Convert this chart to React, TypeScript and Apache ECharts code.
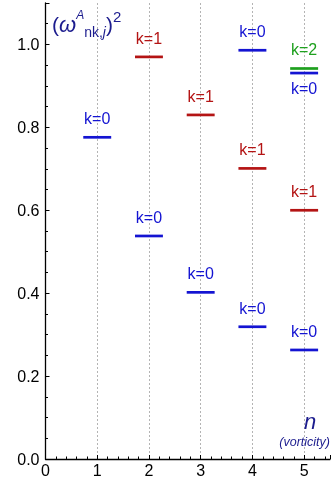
import React, { useEffect, useRef } from 'react';
import * as echarts from 'echarts';

// n (vorticity) of each level
const vorticityN = [1, 2, 2, 3, 3, 4, 4, 4, 5, 5, 5, 5];
// k index of each level
const kIndex = [0, 1, 0, 1, 0, 0, 1, 0, 2, 0, 1, 0];
// (omega^A_{nk,j})^2 of each level
const omegaSquared = [0.776, 0.970, 0.538, 0.830, 0.402, 0.986, 0.701, 0.319, 0.942, 0.931, 0.600, 0.263];

const K_COLORS = ['#1414d2', '#b41414', '#1ea01e'];
const NAVY = '#1c1c8e';
const FONT = '"Liberation Sans", Arial, sans-serif';
const HALF_WIDTH = 0.27;

function txt(text: string, x: number, baseline: number, fs: number, italic: boolean, align: string = 'left') {
  return {
    type: 'text',
    x,
    y: baseline - 0.35 * fs,
    z: 100,
    style: {
      text,
      font: `${italic ? 'italic ' : ''}${fs}px ${FONT}`,
      fill: NAVY,
      align,
      verticalAlign: 'middle',
    },
  };
}

export default function App() {
  const ref = useRef<HTMLDivElement>(null);
  useEffect(() => {
    document.body.style.margin = '0';
    const chart = echarts.init(ref.current!, null, { renderer: 'svg' });
    const data = vorticityN.map((n, i) => {
      const v = omegaSquared[i];
      const below = vorticityN.some((m, j) => j !== i && m === n && omegaSquared[j] > v && omegaSquared[j] - v < 0.05);
      return [n, v, kIndex[i], below ? 1 : 0];
    });
    const titleRich = {
      p: { fontSize: 21, lineHeight: 30, verticalAlign: 'middle', fontFamily: FONT, color: NAVY },
      w: { fontSize: 22, lineHeight: 30, verticalAlign: 'middle', fontStyle: 'italic', fontFamily: FONT, color: NAVY },
      a: { fontSize: 12, lineHeight: 20, verticalAlign: 'top', fontStyle: 'italic', fontFamily: FONT, color: NAVY },
      s: { fontSize: 14, lineHeight: 14, verticalAlign: 'bottom', fontFamily: FONT, color: NAVY },
      j: { fontSize: 14, lineHeight: 14, verticalAlign: 'bottom', fontStyle: 'italic', fontFamily: FONT, color: NAVY },
      t: { fontSize: 15, lineHeight: 19, verticalAlign: 'top', fontFamily: FONT, color: NAVY },
    };
    chart.setOption({
      animation: false,
      grid: { left: 45.5, right: 4, top: 3, bottom: 24, containLabel: false },
      xAxis: {
        type: 'value',
        min: 0,
        max: 5.5,
        interval: 1,
        axisLine: { show: true, onZero: false, lineStyle: { color: '#000', width: 1.3 } },
        axisTick: { show: true, inside: true, length: 4, lineStyle: { color: '#000', width: 1 } },
        minorTick: { show: true, splitNumber: 5, length: 2.5, lineStyle: { color: '#000', width: 1 } },
        axisLabel: { showMaxLabel: false, fontSize: 16, color: '#000', fontFamily: FONT, margin: 3 },
        splitLine: { show: true, showMinLine: false, showMaxLine: false, lineStyle: { color: '#b4b4b4', type: [2, 2], width: 1 } },
      },
      yAxis: {
        type: 'value',
        min: 0,
        max: 1.1,
        interval: 0.2,
        axisLine: { show: true, onZero: false, lineStyle: { color: '#000', width: 1.3 } },
        axisTick: { show: true, inside: true, length: 4, lineStyle: { color: '#000', width: 1 } },
        minorTick: { show: true, splitNumber: 4, length: 2.5, lineStyle: { color: '#000', width: 1 } },
        axisLabel: { showMaxLabel: false, fontSize: 16, color: '#000', fontFamily: FONT, margin: 6, formatter: (v: number) => v.toFixed(1) },
        splitLine: { show: false },
      },
      series: [
        {
          type: 'custom',
          data,
          renderItem: (params: any, api: any) => {
            const n = api.value(0);
            const v = api.value(1);
            const k = api.value(2);
            const below = api.value(3) === 1;
            const p1 = api.coord([n - HALF_WIDTH, v]);
            const p2 = api.coord([n + HALF_WIDTH, v]);
            const c = K_COLORS[k];
            return {
              type: 'group',
              children: [
                { type: 'line', shape: { x1: p1[0], y1: p1[1], x2: p2[0], y2: p2[1] }, style: { stroke: c, lineWidth: 2.7 } },
                {
                  type: 'text',
                  x: (p1[0] + p2[0]) / 2,
                  y: below ? p1[1] + 15 : p1[1] - 18.6,
                  style: { text: 'k=' + k, fill: c, font: `16px ${FONT}`, align: 'center', verticalAlign: 'middle' },
                },
              ],
            };
          },
        },
      ],
      graphic: [
        {
          type: 'text',
          x: 52,
          y: 9,
          z: 100,
          style: {
            text: '{p|(}{w|\u03c9}{a|A}{s|nk,}{j|j}{p|)}{t|2}',
            rich: titleRich,
            align: 'left',
            verticalAlign: 'top',
            fill: NAVY,
          },
        },
        txt('n', 310, 429, 22, true, 'center'),
        txt('(vorticity)', 330, 446, 12.5, true, 'right'),
      ],
    });
    return () => chart.dispose();
  }, []);
  return <div ref={ref} style={{ width: 334, height: 483, position: 'fixed', left: 0, top: 0 }} />;
}
